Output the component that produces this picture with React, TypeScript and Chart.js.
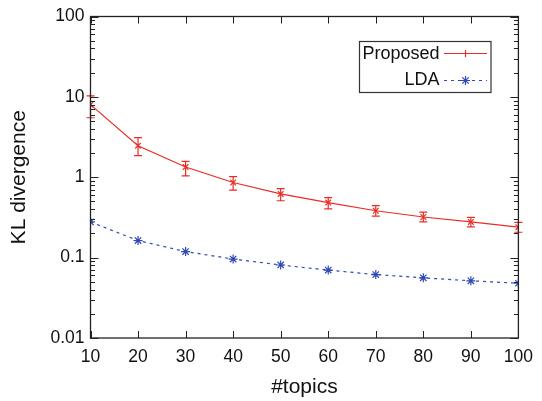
import React, { useEffect, useRef } from "react";
import { Chart, registerables } from "chart.js";

Chart.register(...registerables);

const topics = [10, 20, 30, 40, 50, 60, 70, 80, 90, 100];
const proposed = [8.0, 2.47, 1.34, 0.86, 0.62, 0.484, 0.383, 0.32, 0.278, 0.239];
const proposedHi = [10.3, 3.12, 1.58, 1.02, 0.72, 0.557, 0.444, 0.369, 0.317, 0.275];
const proposedLo = [5.5, 1.86, 1.04, 0.69, 0.51, 0.405, 0.329, 0.278, 0.241, 0.207];
const lda = [0.278, 0.163, 0.119, 0.096, 0.081, 0.07, 0.0615, 0.056, 0.0515, 0.048];
const yMajor = [0.01, 0.1, 1, 10, 100];
const yLabels = ["0.01", "0.1", "1", "10", "100"];
const seriesNames = ["Proposed", "LDA"];

const RED = "rgb(232,44,38)";
const BLUE = "rgb(48,72,180)";
const FONT = "'Liberation Sans', Arial, Helvetica, sans-serif";
const AXIS = "#222";

function isMajor(v: number) {
  const l = Math.log10(v);
  return Math.abs(l - Math.round(l)) < 1e-9;
}

const framePlugin = {
  id: "frameTicks",
  afterDatasetsDraw(chart: any) {
    const { ctx, chartArea, scales } = chart;
    const { left, right, top, bottom } = chartArea;
    const ys = scales.y;
    const xs = scales.x;
    ctx.save();
    ctx.strokeStyle = AXIS;
    ctx.lineWidth = 1.3;
    ctx.strokeRect(left, top, right - left, bottom - top);
    ctx.lineWidth = 1;
    ctx.beginPath();
    ys.ticks.forEach((t: any) => {
      const py = Math.round(ys.getPixelForValue(t.value)) + 0.5;
      const len = isMajor(t.value) ? 8 : 4.5;
      ctx.moveTo(left, py);
      ctx.lineTo(left + len, py);
      ctx.moveTo(right, py);
      ctx.lineTo(right - len, py);
    });
    topics.forEach((v) => {
      const px = Math.round(xs.getPixelForValue(v)) + 0.5;
      ctx.moveTo(px, bottom);
      ctx.lineTo(px, bottom - 7);
      ctx.moveTo(px, top);
      ctx.lineTo(px, top + 7);
    });
    ctx.stroke();
    ctx.restore();
  },
};

const errorBarPlugin = {
  id: "errorBars",
  afterDatasetsDraw(chart: any) {
    const { ctx, scales } = chart;
    const xs = scales.x;
    const ys = scales.y;
    ctx.save();
    ctx.strokeStyle = RED;
    ctx.lineWidth = 1.2;
    ctx.beginPath();
    topics.forEach((t, i) => {
      const px = xs.getPixelForValue(t);
      const pHi = ys.getPixelForValue(proposedHi[i]);
      const pLo = ys.getPixelForValue(proposedLo[i]);
      ctx.moveTo(px, pHi);
      ctx.lineTo(px, pLo);
      ctx.moveTo(px - 4, pHi);
      ctx.lineTo(px + 4, pHi);
      ctx.moveTo(px - 4, pLo);
      ctx.lineTo(px + 4, pLo);
    });
    ctx.stroke();
    ctx.restore();
  },
};

const legendPlugin = {
  id: "customLegend",
  afterDraw(chart: any) {
    const { ctx } = chart;
    ctx.save();
    ctx.strokeStyle = "#333";
    ctx.lineWidth = 1.2;
    ctx.strokeRect(359.5, 41.5, 131.5, 51);
    ctx.font = `18px ${FONT}`;
    ctx.fillStyle = "#111";
    ctx.textAlign = "right";
    ctx.textBaseline = "middle";
    ctx.fillText(seriesNames[0], 439.5, 54);
    ctx.fillText(seriesNames[1], 439.5, 80.5);
    // red sample
    ctx.strokeStyle = RED;
    ctx.lineWidth = 1.2;
    ctx.beginPath();
    ctx.moveTo(444, 53.5);
    ctx.lineTo(487, 53.5);
    ctx.moveTo(465.5, 50);
    ctx.lineTo(465.5, 57);
    ctx.stroke();
    // blue sample
    ctx.strokeStyle = BLUE;
    ctx.lineWidth = 1;
    ctx.setLineDash([3, 4]);
    ctx.beginPath();
    ctx.moveTo(444, 80.5);
    ctx.lineTo(487, 80.5);
    ctx.stroke();
    ctx.setLineDash([]);
    const cx = 465.5, cy = 80.5, r = 4.5;
    ctx.lineWidth = 1.2;
    ctx.beginPath();
    for (let k = 0; k < 4; k++) {
      const a = (k * Math.PI) / 4;
      ctx.moveTo(cx - r * Math.cos(a), cy - r * Math.sin(a));
      ctx.lineTo(cx + r * Math.cos(a), cy + r * Math.sin(a));
    }
    ctx.stroke();
    ctx.restore();
  },
};

export default function App() {
  const ref = useRef<HTMLCanvasElement | null>(null);
  useEffect(() => {
    if (!ref.current) return;
    const yTicks: number[] = [];
    for (let e = -2; e <= 1; e++) {
      for (let m = 1; m <= 9; m++) yTicks.push(m * Math.pow(10, e));
    }
    yTicks.push(100);
    const chart = new Chart(ref.current, {
      type: "line",
      data: {
        datasets: [
          {
            label: seriesNames[0],
            data: topics.map((t, i) => ({ x: t, y: proposed[i] })),
            borderColor: RED,
            backgroundColor: RED,
            borderWidth: 1.2,
            pointStyle: "crossRot",
            pointRadius: 4,
            pointBorderWidth: 1.2,
            tension: 0,
          },
          {
            label: seriesNames[1],
            data: topics.map((t, i) => ({ x: t, y: lda[i] })),
            borderColor: BLUE,
            backgroundColor: BLUE,
            borderWidth: 1.2,
            borderDash: [3, 4],
            pointStyle: "star",
            pointRadius: 4.5,
            pointBorderWidth: 1.2,
            tension: 0,
          },
        ],
      },
      options: {
        animation: false,
        responsive: false,
        layout: { padding: { top: 15, right: 21, left: 0, bottom: 0 } },
        plugins: {
          legend: { display: false },
          tooltip: { enabled: false },
        },
        scales: {
          x: {
            type: "linear",
            min: 10,
            max: 100,
            grid: { display: false, drawTicks: false },
            border: { display: false },
            ticks: {
              stepSize: 10,
              padding: 9,
              color: "#111",
              font: { family: FONT, size: 17.5 },
              maxRotation: 0,
            },
            title: {
              display: true,
              text: "#topics",
              color: "#111",
              font: { family: FONT, size: 21 },
              padding: { top: 0, bottom: 1.5 },
            },
            afterFit: (s: any) => {
              s.height = 63;
            },
          },
          y: {
            type: "logarithmic",
            min: 0.01,
            max: 100,
            grid: { display: false, drawTicks: false },
            border: { display: false },
            afterBuildTicks: (s: any) => {
              s.ticks = yTicks.map((v) => ({ value: v }));
            },
            ticks: {
              autoSkip: false,
              padding: 6,
              color: "#111",
              font: { family: FONT, size: 17.5 },
              callback: (v: any) => {
                const idx = yMajor.findIndex((m) => Math.abs(m - Number(v)) / m < 1e-6);
                return idx >= 0 ? yLabels[idx] : "";
              },
            },
            title: {
              display: true,
              text: "KL divergence",
              color: "#111",
              font: { family: FONT, size: 21 },
              padding: { top: 6.5, bottom: 0 },
            },
            afterFit: (s: any) => {
              s.width = 90.5;
            },
          },
        },
      },
      plugins: [errorBarPlugin, framePlugin, legendPlugin],
    });
    return () => chart.destroy();
  }, []);
  return (
    <div style={{ position: "absolute", left: 0, top: 0, width: 542, height: 401, background: "#fff" }}>
      <canvas ref={ref} width={542} height={401} style={{ width: 542, height: 401 }} />
    </div>
  );
}
